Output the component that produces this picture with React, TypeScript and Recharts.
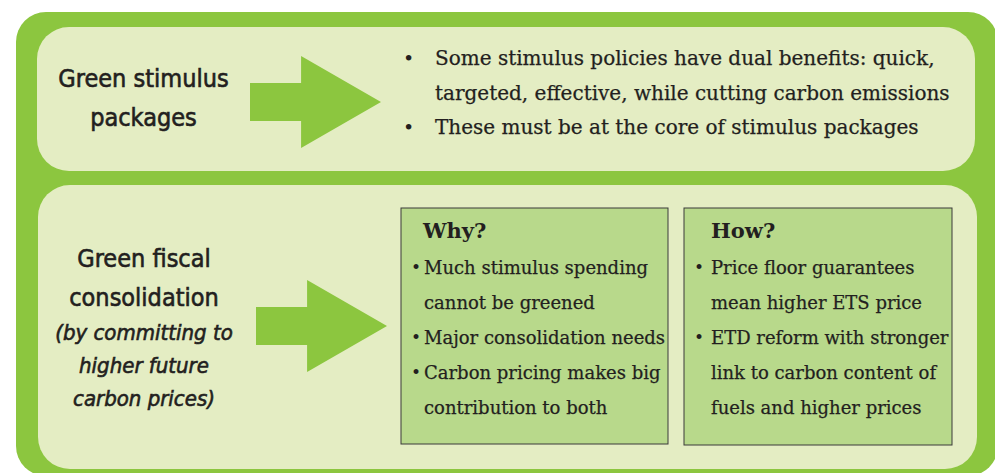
import { ComposedChart, XAxis, YAxis, ReferenceArea } from 'recharts';

const W = 995;
const H = 473;

// text content
const stimulusLabel = ['Green stimulus', 'packages'];
const stimulusBullets = [
  ['Some stimulus policies have dual benefits: quick,', 'targeted, effective, while cutting carbon emissions'],
  ['These must be at the core of stimulus packages'],
];
const consolidationLabel = ['Green fiscal', 'consolidation'];
const consolidationNote = ['(by committing to', 'higher future', 'carbon prices)'];
const whyTitle = 'Why?';
const whyItems = [
  ['Much stimulus spending', 'cannot be greened'],
  ['Major consolidation needs'],
  ['Carbon pricing makes big', 'contribution to both'],
];
const howTitle = 'How?';
const howItems = [
  ['Price floor guarantees', 'mean higher ETS price'],
  ['ETD reform with stronger', 'link to carbon content of', 'fuels and higher prices'],
];

const INK = '#231f20';
const LIME = '#8cc63f';
const PALE = '#e4edc3';
const BOX = '#b8d98b';
const SANS = '"DejaVu Sans Condensed", "Open Sans", sans-serif';
const SERIF = '"DejaVu Serif", serif';

const rounded = (fill: string, r: number) => (p: any) => (
  <rect x={p.x} y={p.y} width={p.width} height={p.height} rx={r} ry={r} fill={fill} />
);

const arrow = (p: any) => {
  const { x, y, width: w, height: h } = p;
  const sx = x + w * 0.39;
  const t = y + h * 0.293;
  const b = y + h * 0.707;
  const pts = [
    [x, t], [sx, t], [sx, y], [x + w, y + h / 2], [sx, y + h], [sx, b], [x, b],
  ];
  return <polygon points={pts.map((q) => q.join(',')).join(' ')} fill={LIME} />;
};

const centeredLines = (texts: string[], step: number, style: any) => (p: any) => {
  const cx = p.x + p.width / 2;
  return (
    <g>
      {texts.map((t, i) => (
        <text key={i} x={cx} y={p.y + i * step} textAnchor="middle" dominantBaseline="central"
          fill={INK} stroke={INK} strokeWidth={0.6} {...style}>
          {t}
        </text>
      ))}
    </g>
  );
};

function bulletList(items: string[][], step: number, textDx: number, bulletSize: number, fontSize: number, bulletDx = 0) {
  return (p: any) => {
    const out: any[] = [];
    let row = 0;
    items.forEach((item, i) => {
      item.forEach((line, j) => {
        const y = p.y + row * step;
        if (j === 0) {
          out.push(
            <text key={`b${i}`} x={p.x + bulletDx} y={y} dominantBaseline="central" fontSize={bulletSize} fontFamily={SERIF} fill={INK}>
              •
            </text>,
          );
        }
        out.push(
          <text key={`t${i}-${j}`} x={p.x + textDx} y={y} dominantBaseline="central" fontSize={fontSize}
            fontFamily={SERIF} fill={INK} stroke={INK} strokeWidth={0.25}>
            {line}
          </text>,
        );
        row += 1;
      });
    });
    return <g>{out}</g>;
  };
}

const infoBox = (title: string, items: string[][], titleDx: number, textDx: number) => (p: any) => (
  <g>
    <rect x={p.x} y={p.y} width={p.width} height={p.height} fill={BOX} stroke="#3a3a3a" strokeWidth={1} />
    <text x={p.x + titleDx} y={p.y + 22} dominantBaseline="central" fontSize={21} fontWeight="bold" fontFamily={SERIF} fill={INK}>
      {title}
    </text>
    {bulletList(items, 35, textDx, 17, 18, 10)({ x: p.x, y: p.y + 59 })}
  </g>
);

export default function App() {
  return (
    <div style={{ position: 'absolute', left: 0, top: 0, width: W, height: H, background: '#fff' }}>
      <ComposedChart width={W} height={H} data={[]} margin={{ top: 0, right: 0, bottom: 0, left: 0 }}>
        <XAxis type="number" dataKey="x" domain={[0, W]} hide allowDataOverflow />
        <YAxis type="number" dataKey="y" domain={[0, H]} reversed hide allowDataOverflow width={0} />

        {/* frame and panels */}
        <ReferenceArea x1={16} x2={998} y1={12} y2={476} ifOverflow="visible" shape={rounded(LIME, 30)} />
        <ReferenceArea x1={37} x2={975} y1={27} y2={171} ifOverflow="visible" shape={rounded(PALE, 32)} />
        <ReferenceArea x1={38} x2={977} y1={185} y2={469} ifOverflow="visible" shape={rounded(PALE, 32)} />

        {/* top panel */}
        <ReferenceArea x1={37} x2={250} y1={78} y2={120} ifOverflow="visible"
          shape={centeredLines(stimulusLabel, 39, { fontSize: 25, fontFamily: SANS })} />
        <ReferenceArea x1={250} x2={381} y1={56} y2={148} ifOverflow="visible" shape={arrow} />
        <ReferenceArea x1={403} x2={960} y1={58} y2={130} ifOverflow="visible" shape={bulletList(stimulusBullets, 34.5, 32, 19, 20)} />

        {/* bottom panel */}
        <ReferenceArea x1={38} x2={250} y1={258} y2={300} ifOverflow="visible"
          shape={centeredLines(consolidationLabel, 39, { fontSize: 25, fontFamily: SANS })} />
        <ReferenceArea x1={38} x2={250} y1={332} y2={400} ifOverflow="visible"
          shape={centeredLines(consolidationNote, 33, { fontSize: 22, fontFamily: SANS, fontStyle: 'italic' })} />
        <ReferenceArea x1={256} x2={387} y1={280} y2={372} ifOverflow="visible" shape={arrow} />
        <ReferenceArea x1={401} x2={668} y1={208} y2={444} ifOverflow="visible" shape={infoBox(whyTitle, whyItems, 22, 23)} />
        <ReferenceArea x1={684} x2={952} y1={208} y2={445} ifOverflow="visible" shape={infoBox(howTitle, howItems, 27, 27)} />
      </ComposedChart>
    </div>
  );
}
